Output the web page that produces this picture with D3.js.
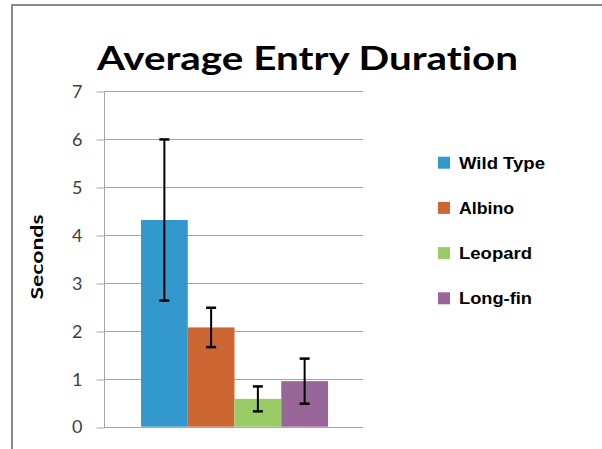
<!DOCTYPE html>
<html>
<head>
<meta charset="utf-8">
<script src="https://cdn.jsdelivr.net/npm/d3@7"></script>
<style>
html,body{margin:0;padding:0;background:#fff;}
svg{display:block;}
text{font-variant-ligatures:none;}
</style>
</head>
<body>
<svg id="chart" width="602" height="449"></svg>
<script>
const categories = ["Wild Type", "Albino", "Leopard", "Long-fin"];
const means = [4.31, 2.07, 0.58, 0.95];
const errors = [1.68, 0.41, 0.26, 0.47];
const colors = ["#3399CC", "#CC6633", "#99CC66", "#996699"];
const yTicks = [0, 1, 2, 3, 4, 5, 6, 7];
const title = "Average Entry Duration";
const yLabel = "Seconds";

const svg = d3.select("#chart");

// outer frame
svg.append("line").attr("x1", 12).attr("x2", 602).attr("y1", 5).attr("y2", 5)
  .attr("stroke", "#8a8a8a").attr("stroke-width", 2);
svg.append("line").attr("x1", 12).attr("x2", 12).attr("y1", 4).attr("y2", 449)
  .attr("stroke", "#8a8a8a").attr("stroke-width", 2);

const plot = {left: 104, right: 363, top: 91, bottom: 426.7};

const y = d3.scaleLinear().domain([0, 7]).range([plot.bottom, plot.top]);
const x = d3.scaleBand().domain(categories).range([141, 328]).padding(0);

// gridlines
svg.append("g").selectAll("line").data(yTicks).join("line")
  .attr("x1", plot.left).attr("x2", plot.right)
  .attr("y1", d => Math.round(y(d)) + 0.5).attr("y2", d => Math.round(y(d)) + 0.5)
  .attr("stroke", "#a6a6a6").attr("stroke-width", 1);

// y axis
const yAxis = d3.axisLeft(y).tickValues(yTicks).tickSize(8).tickPadding(14).tickFormat(d3.format("d"));
const gy = svg.append("g").attr("transform", `translate(${plot.left + 0.5},0.5)`).call(yAxis);
gy.select(".domain").remove();
gy.append("line").attr("x1", 0).attr("x2", 0).attr("y1", Math.round(plot.top)).attr("y2", Math.round(plot.bottom))
  .attr("stroke", "#a6a6a6");
gy.selectAll(".tick line").attr("stroke", "#a6a6a6").attr("transform", d => `translate(0,${Math.round(y(d)) - y(d)})`);
gy.selectAll(".tick text")
  .attr("font-family", "Lato, 'Open Sans', sans-serif")
  .attr("font-size", 18).attr("fill", "#404040");

// bars
svg.append("g").selectAll("rect").data(categories).join("rect")
  .attr("x", d => x(d)).attr("width", x.bandwidth())
  .attr("y", (d, i) => y(means[i])).attr("height", (d, i) => y(0) - y(means[i]))
  .attr("fill", (d, i) => colors[i]);

// error bars
const eg = svg.append("g").attr("stroke", "#000").attr("stroke-width", 2);
categories.forEach((c, i) => {
  const cx = x(c) + x.bandwidth() / 2;
  const hi = y(means[i] + errors[i]), lo = y(means[i] - errors[i]);
  eg.append("line").attr("x1", cx).attr("x2", cx).attr("y1", hi).attr("y2", lo);
  eg.append("line").attr("x1", cx - 5).attr("x2", cx + 5).attr("y1", hi).attr("y2", hi).attr("stroke-width", 2.5);
  eg.append("line").attr("x1", cx - 5).attr("x2", cx + 5).attr("y1", lo).attr("y2", lo).attr("stroke-width", 2.5);
});

// title
svg.append("text").attr("x", 97).attr("y", 70)
  .attr("font-family", "Lato, 'Open Sans', sans-serif").attr("font-weight", "bold")
  .attr("font-size", 33).attr("fill", "#000")
  .attr("textLength", 421).attr("lengthAdjust", "spacingAndGlyphs")
  .text(title);

// y label
svg.append("text").attr("transform", "translate(43,257) rotate(-90)")
  .attr("text-anchor", "middle")
  .attr("font-family", "Lato, 'Open Sans', sans-serif").attr("font-weight", "bold")
  .attr("font-size", 17).attr("fill", "#000")
  .attr("textLength", 85).attr("lengthAdjust", "spacingAndGlyphs")
  .text(yLabel);

// legend
const legendY = d3.scalePoint().domain(categories).range([162.7, 298.3]);
const lg = svg.append("g");
const legendWidths = [86, 55, 73, 73];
categories.forEach((c, i) => {
  const cy = legendY(c);
  lg.append("rect").attr("x", 438).attr("y", cy - 6).attr("width", 12).attr("height", 12).attr("fill", colors[i]);
  lg.append("text").attr("x", 459).attr("y", cy + 6)
    .attr("font-family", "'Liberation Sans', Arial, sans-serif").attr("font-weight", "bold")
    .attr("font-size", 16).attr("fill", "#000")
    .attr("textLength", legendWidths[i]).attr("lengthAdjust", "spacingAndGlyphs")
    .text(c);
});
</script>
</body>
</html>
